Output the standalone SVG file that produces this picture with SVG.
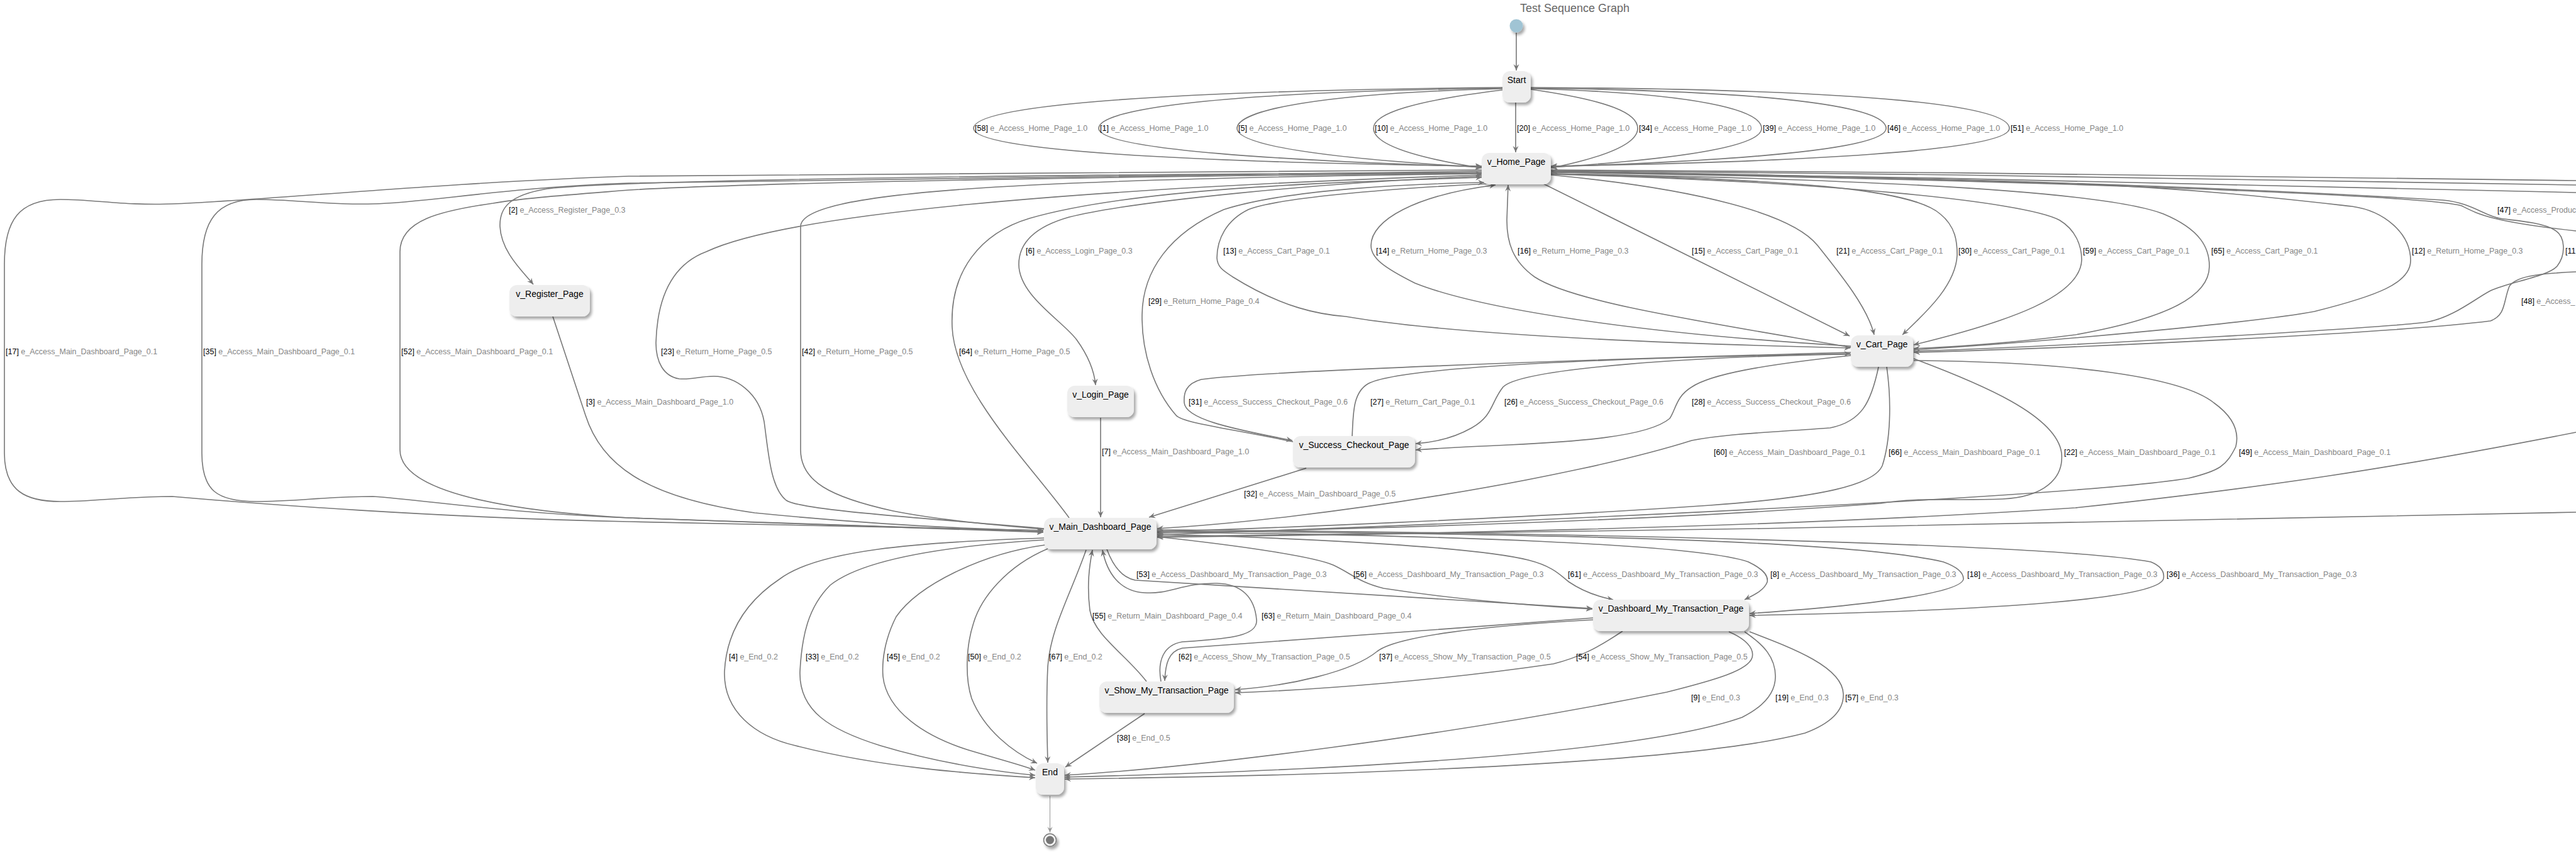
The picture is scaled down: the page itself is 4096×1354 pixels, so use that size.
<svg xmlns="http://www.w3.org/2000/svg" width="4096" height="1354" viewBox="0 0 4096 1354">
<defs>
<style>
.nd rect{fill:#EEEEEE;filter:url(#sh)}
.nt{font-family:"Liberation Sans",Arial,sans-serif;font-size:14px;fill:#000;text-anchor:middle}
.e{fill:none;stroke:#777;stroke-width:1.6;marker-end:url(#ah)}
.o{fill:none;stroke:#777;stroke-width:1.6}
.l{font-family:"Liberation Sans",Arial,sans-serif;font-size:12.5px;fill:#858585}
.k{fill:#000}
.title{font-family:"Liberation Sans",Arial,sans-serif;font-size:18px;fill:#666;text-anchor:middle}
</style>
<filter id="sh" x="-20%" y="-20%" width="150%" height="170%"><feDropShadow dx="3" dy="4" stdDeviation="2" flood-color="#000" flood-opacity="0.35"/></filter>
<marker id="ah" markerUnits="userSpaceOnUse" markerWidth="10" markerHeight="10" viewBox="0 0 10 10" refX="10" refY="5" orient="auto"><path d="M0,0.5 L10,5 L0,9.5 L3.5,5 Z" fill="#777"/></marker>
<marker id="ah2" markerUnits="userSpaceOnUse" markerWidth="9" markerHeight="9" viewBox="0 0 10 10" refX="10" refY="5" orient="auto"><path d="M0,0.5 L10,5 L0,9.5 L3.5,5 Z" fill="#999"/></marker>
</defs>
<rect width="4096" height="1354" fill="#fff"/>
<text class="title" x="2504" y="19">Test Sequence Graph</text>

<g id="edges">
<path id="e_init" class="e" d="M2411,52 L2411,112"/>
<g id="e58"><path class="e" d="M2389,139 C1800,145 1548,170 1548,204 C1548,240 1900,258 2356,264"/><text class="l" x="1550" y="208"><tspan class="k">[58]</tspan> e_Access_Home_Page_1.0</text></g>
<g id="e1"><path class="e" d="M2389,140 C1950,146 1747,172 1747,204 C1747,238 2050,256 2356,265"/><text class="l" x="1749" y="208"><tspan class="k">[1]</tspan> e_Access_Home_Page_1.0</text></g>
<g id="e5"><path class="e" d="M2389,141 C2100,148 1967,175 1967,204 C1967,235 2150,254 2356,266"/><text class="l" x="1969" y="208"><tspan class="k">[5]</tspan> e_Access_Home_Page_1.0</text></g>
<g id="e10"><path class="e" d="M2389,143 C2250,160 2184,180 2184,204 C2184,232 2260,252 2356,267"/><text class="l" x="2186" y="208"><tspan class="k">[10]</tspan> e_Access_Home_Page_1.0</text></g>
<g id="e20"><path class="e" d="M2410,163 L2410,242"/><text class="l" x="2412" y="208"><tspan class="k">[20]</tspan> e_Access_Home_Page_1.0</text></g>
<g id="e34"><path class="e" d="M2434,142 C2560,160 2604,180 2604,204 C2604,232 2540,252 2466,267"/><text class="l" x="2606" y="208"><tspan class="k">[34]</tspan> e_Access_Home_Page_1.0</text></g>
<g id="e39"><path class="e" d="M2434,141 C2700,148 2801,175 2801,204 C2801,235 2650,254 2466,266"/><text class="l" x="2803" y="208"><tspan class="k">[39]</tspan> e_Access_Home_Page_1.0</text></g>
<g id="e46"><path class="e" d="M2434,140 C2850,145 2999,172 2999,204 C2999,238 2750,256 2466,265"/><text class="l" x="3001" y="208"><tspan class="k">[46]</tspan> e_Access_Home_Page_1.0</text></g>
<g id="e51"><path class="e" d="M2434,139 C3000,142 3195,170 3195,204 C3195,240 2850,258 2466,264"/><text class="l" x="3197" y="208"><tspan class="k">[51]</tspan> e_Access_Home_Page_1.0</text></g>

<g id="e2"><path class="e" d="M2356,274 C1600,278 1000,285 870,300 C810,310 794,330 795,360 C797,400 830,430 848,452"/><text class="l" x="809" y="338"><tspan class="k">[2]</tspan> e_Access_Register_Page_0.3</text></g>
<g id="e3"><path class="e" d="M879,503 L931,660 C955,735 1020,790 1200,815 C1400,835 1550,841 1659,843"/><text class="l" x="932" y="643"><tspan class="k">[3]</tspan> e_Access_Main_Dashboard_Page_1.0</text></g>
<g id="e17"><path class="e" d="M2356,270 C1800,272 1300,276 1000,280 C700,290 400,320 274,324 C200,327 150,317 96,317 C30,317 7,350 7,420 L7,720 C7,780 40,797 96,797 C150,797 200,789 274,789 C400,800 700,823 1000,829 C1300,835 1500,840 1659,843"/><text class="l" x="9" y="563"><tspan class="k">[17]</tspan> e_Access_Main_Dashboard_Page_0.1</text></g>
<g id="e35"><path class="e" d="M2356,272 C1800,276 1300,284 1000,291 C800,298 680,322 593,324 C520,326 470,317 408,317 C345,317 321,350 321,420 L321,720 C321,780 345,797 408,797 C470,797 520,789 593,789 C680,795 800,815 1000,823 C1300,833 1500,840 1659,845"/><text class="l" x="323" y="563"><tspan class="k">[35]</tspan> e_Access_Main_Dashboard_Page_0.1</text></g>
<g id="e52"><path class="e" d="M2356,275 C1800,280 1200,290 1000,302 C900,310 830,315 784,323 C700,335 636,350 636,400 L636,715 C636,790 850,815 1000,823 C1300,835 1500,842 1659,846"/><text class="l" x="638" y="563"><tspan class="k">[52]</tspan> e_Access_Main_Dashboard_Page_0.1</text></g>
<g id="e23"><path class="e" d="M1660,840 C1450,822 1270,810 1250,795 C1225,775 1222,720 1215,670 C1207,625 1170,598 1135,598 C1110,598 1100,604 1080,602 C1055,598 1043,575 1043,545 C1045,470 1070,420 1123,400 C1250,340 1700,300 2356,278"/><text class="l" x="1051" y="563"><tspan class="k">[23]</tspan> e_Return_Home_Page_0.5</text></g>
<g id="e42"><path class="e" d="M1660,841 C1560,833 1470,822 1420,812 C1320,790 1273,765 1273,715 L1273,360 C1273,305 1600,285 2356,276"/><text class="l" x="1275" y="563"><tspan class="k">[42]</tspan> e_Return_Home_Page_0.5</text></g>
<g id="e64"><path class="e" d="M1700,823 C1640,740 1518,620 1514,520 C1510,430 1560,370 1637,347 C1800,300 2100,290 2356,282"/><text class="l" x="1525" y="563"><tspan class="k">[64]</tspan> e_Return_Home_Page_0.5</text></g>
<g id="e6"><path class="e" d="M2356,280 C2100,290 1800,320 1700,345 C1640,362 1620,390 1620,420 C1620,470 1690,510 1712,540 C1730,565 1740,590 1742,612"/><text class="l" x="1631" y="403"><tspan class="k">[6]</tspan> e_Access_Login_Page_0.3</text></g>
<g id="e7"><path class="e" d="M1750,664 L1750,822"/><text class="l" x="1752" y="722"><tspan class="k">[7]</tspan> e_Access_Main_Dashboard_Page_1.0</text></g>
<g id="e29"><path class="e" d="M2056,702 C1950,680 1880,672 1870,660 C1835,620 1815,560 1816,500 C1817,430 1860,370 1946,333 C2050,300 2250,292 2360,290"/><text class="l" x="1826" y="483"><tspan class="k">[29]</tspan> e_Return_Home_Page_0.4</text></g>
<g id="e13"><path class="e" d="M2366,292 C2200,300 2030,315 1985,333 C1950,350 1935,380 1935,410 C1936,425 1945,430 1960,440 C2040,490 2100,500 2140,503 C2300,530 2600,545 2942,553"/><text class="l" x="1945" y="403"><tspan class="k">[13]</tspan> e_Access_Cart_Page_0.1</text></g>
<g id="e14"><path class="e" d="M2943,550 C2600,530 2350,490 2250,450 C2200,425 2180,410 2180,390 C2180,350 2250,310 2378,294"/><text class="l" x="2188" y="403"><tspan class="k">[14]</tspan> e_Return_Home_Page_0.3</text></g>
<g id="e16"><path class="e" d="M2943,552 C2700,510 2500,480 2440,440 C2405,415 2396,385 2396,350 L2398,294"/><text class="l" x="2413" y="403"><tspan class="k">[16]</tspan> e_Return_Home_Page_0.3</text></g>
<g id="e15"><path class="e" d="M2454,292 L2941,534"/><text class="l" x="2690" y="403"><tspan class="k">[15]</tspan> e_Access_Cart_Page_0.1</text></g>
<g id="e21"><path class="e" d="M2466,278 C2700,300 2850,340 2890,390 C2930,440 2970,490 2980,532"/><text class="l" x="2920" y="403"><tspan class="k">[21]</tspan> e_Access_Cart_Page_0.1</text></g>
<g id="e30"><path class="e" d="M2466,276 C2850,285 3040,300 3085,340 C3110,360 3112,385 3112,405 C3110,450 3070,490 3025,532"/><text class="l" x="3114" y="403"><tspan class="k">[30]</tspan> e_Access_Cart_Page_0.1</text></g>
<g id="e59"><path class="e" d="M2466,277 C2900,288 3220,320 3275,350 C3300,365 3310,390 3310,413 C3308,470 3200,510 3043,548"/><text class="l" x="3312" y="403"><tspan class="k">[59]</tspan> e_Access_Cart_Page_0.1</text></g>
<g id="e65"><path class="e" d="M2466,276 C3000,285 3350,305 3440,340 C3500,365 3513,395 3513,423 C3513,470 3450,505 3300,532 C3200,545 3100,552 3043,554"/><text class="l" x="3516" y="403"><tspan class="k">[65]</tspan> e_Access_Cart_Page_0.1</text></g>
<g id="e12"><path class="e" d="M3043,556 C3300,540 3600,510 3680,495 C3780,470 3833,450 3833,414 C3833,370 3790,335 3740,328 C3650,318 3500,300 3300,292 C3000,282 2700,275 2467,272"/><text class="l" x="3835" y="403"><tspan class="k">[12]</tspan> e_Return_Home_Page_0.3</text></g>
<g id="e11"><path class="e" d="M3043,558 C3300,550 3800,520 3858,512 C3900,505 3935,475 3960,462 C3990,448 4050,440 4066,423 C4080,405 4080,375 4061,365 C4040,352 3990,350 3975,347 C3950,343 3930,322 3884,318 C3500,295 3000,280 2467,273"/><text class="l" x="4079" y="403"><tspan class="k">[11</tspan></text></g>
<g id="e47"><path class="o" d="M2466,274 C3200,285 3850,310 3914,327 C3940,340 3960,352 4096,367"/><text class="l" x="3971" y="338"><tspan class="k">[47]</tspan> e_Access_Produc</text></g>
<g id="e48"><path class="e" d="M4096,432 C4030,435 4000,440 3990,455 C3980,480 3985,500 3960,510 C3800,530 3300,553 3043,560"/><text class="l" x="4009" y="483"><tspan class="k">[48]</tspan> e_Access_</text></g>
<path id="eo1" class="o" d="M2466,270 C3000,272 3600,280 4096,287"/>
<path id="eo2" class="o" d="M2466,271 C3000,275 3600,285 4096,294"/>
<path id="eo3" class="o" d="M2466,273 C3000,280 3700,295 4096,306"/>

<g id="e31"><path class="e" d="M2943,560 C2500,572 2000,590 1910,603 C1885,610 1882,625 1883,640 C1885,665 1950,680 2055,700"/><text class="l" x="1890" y="643"><tspan class="k">[31]</tspan> e_Access_Success_Checkout_Page_0.6</text></g>
<g id="e27"><path class="e" d="M2150,693 C2152,660 2150,625 2175,610 C2220,585 2500,570 2942,562"/><text class="l" x="2179" y="643"><tspan class="k">[27]</tspan> e_Return_Cart_Page_0.1</text></g>
<g id="e26"><path class="e" d="M2943,563 C2700,566 2420,585 2390,615 C2370,640 2375,660 2340,680 C2310,697 2280,703 2251,705"/><text class="l" x="2392" y="643"><tspan class="k">[26]</tspan> e_Access_Success_Checkout_Page_0.6</text></g>
<g id="e28"><path class="e" d="M2943,565 C2800,580 2720,595 2690,615 C2665,630 2665,650 2655,665 C2620,695 2500,702 2400,707 C2330,710 2280,713 2251,715"/><text class="l" x="2690" y="643"><tspan class="k">[28]</tspan> e_Access_Success_Checkout_Page_0.6</text></g>
<g id="e32"><path class="e" d="M2077,744 L1827,822"/><text class="l" x="1978" y="789"><tspan class="k">[32]</tspan> e_Access_Main_Dashboard_Page_0.5</text></g>
<g id="e60"><path class="e" d="M2987,583 C2975,640 2960,670 2910,680 C2800,688 2740,690 2690,700 C2500,760 2100,825 1840,840"/><text class="l" x="2725" y="723"><tspan class="k">[60]</tspan> e_Access_Main_Dashboard_Page_0.1</text></g>
<g id="e66"><path class="e" d="M3000,583 C3008,640 3006,700 2993,740 C2980,770 2900,790 2719,803 C2400,825 2000,840 1840,845"/><text class="l" x="3003" y="723"><tspan class="k">[66]</tspan> e_Access_Main_Dashboard_Page_0.1</text></g>
<g id="e22"><path class="e" d="M3043,570 C3150,610 3270,660 3278,720 C3282,760 3250,790 3184,793 C3100,796 3050,790 2990,800 C2600,830 2100,842 1840,847"/><text class="l" x="3282" y="723"><tspan class="k">[22]</tspan> e_Access_Main_Dashboard_Page_0.1</text></g>
<g id="e49"><path class="e" d="M3043,573 C3300,575 3470,600 3520,640 C3555,665 3560,690 3555,710 C3540,740 3530,748 3480,760 C3300,790 2400,830 1840,850"/><text class="l" x="3560" y="723"><tspan class="k">[49]</tspan> e_Access_Main_Dashboard_Page_0.1</text></g>
<path id="eo4" class="e" d="M4096,687 C3800,745 3600,775 3300,807 C2800,840 2200,850 1840,852"/>
<path id="eo5" class="e" d="M4096,814 C3700,822 3300,830 2800,840 C2400,848 2000,852 1840,854"/>

<g id="e53"><path class="e" d="M1760,873 C1770,900 1785,918 1805,922 L2532,967"/><text class="l" x="1807" y="917"><tspan class="k">[53]</tspan> e_Access_Dashboard_My_Transaction_Page_0.3</text></g>
<g id="e56"><path class="e" d="M1840,853 C1980,868 2090,885 2120,898 C2150,912 2160,925 2200,935 C2330,955 2450,963 2532,968"/><text class="l" x="2152" y="917"><tspan class="k">[56]</tspan> e_Access_Dashboard_My_Transaction_Page_0.3</text></g>
<g id="e61"><path class="e" d="M1840,849 C2100,856 2350,870 2430,890 C2470,900 2482,915 2495,925 C2520,942 2545,949 2565,953"/><text class="l" x="2493" y="917"><tspan class="k">[61]</tspan> e_Access_Dashboard_My_Transaction_Page_0.3</text></g>
<g id="e8"><path class="e" d="M1840,846 C2300,850 2700,865 2780,893 C2805,905 2812,915 2810,925 C2805,938 2790,945 2774,953"/><text class="l" x="2815" y="917"><tspan class="k">[8]</tspan> e_Access_Dashboard_My_Transaction_Page_0.3</text></g>
<g id="e18"><path class="e" d="M1840,844 C2500,848 2950,860 3090,893 C3115,902 3122,912 3122,920 C3120,940 3000,960 2782,975"/><text class="l" x="3128" y="917"><tspan class="k">[18]</tspan> e_Access_Dashboard_My_Transaction_Page_0.3</text></g>
<g id="e36"><path class="e" d="M1840,842 C2700,848 3300,870 3420,893 C3437,900 3442,910 3440,920 C3430,950 3200,970 2782,978"/><text class="l" x="3445" y="917"><tspan class="k">[36]</tspan> e_Access_Dashboard_My_Transaction_Page_0.3</text></g>
<g id="e55"><path class="e" d="M1823,1083 C1790,1040 1740,1010 1733,970 C1728,930 1732,900 1737,874"/><text class="l" x="1737" y="983"><tspan class="k">[55]</tspan> e_Return_Main_Dashboard_Page_0.4</text></g>
<g id="e63"><path class="e" d="M1846,1083 C1840,1050 1850,1025 1880,1020 C1960,1015 2000,1010 1998,985 C1995,950 1975,928 1935,927 C1880,926 1860,945 1820,942 C1780,940 1760,910 1753,874"/><text class="l" x="2006" y="983"><tspan class="k">[63]</tspan> e_Return_Main_Dashboard_Page_0.4</text></g>
<g id="e62"><path class="e" d="M2533,982 C2300,1000 2000,1020 1880,1030 C1858,1035 1853,1055 1852,1082"/><text class="l" x="1874" y="1048"><tspan class="k">[62]</tspan> e_Access_Show_My_Transaction_Page_0.5</text></g>
<g id="e37"><path class="e" d="M2533,985 C2350,995 2220,1012 2190,1035 C2150,1068 2050,1090 1964,1096"/><text class="l" x="2193" y="1048"><tspan class="k">[37]</tspan> e_Access_Show_My_Transaction_Page_0.5</text></g>
<g id="e54"><path class="e" d="M2580,1003 C2540,1030 2510,1045 2470,1055 C2300,1080 2100,1096 1964,1101"/><text class="l" x="2506" y="1048"><tspan class="k">[54]</tspan> e_Access_Show_My_Transaction_Page_0.5</text></g>
<g id="e4"><path class="e" d="M1660,855 C1450,862 1300,875 1240,920 C1180,960 1155,1010 1152,1067 C1150,1130 1200,1170 1265,1185 C1400,1220 1550,1230 1646,1236"/><text class="l" x="1159" y="1048"><tspan class="k">[4]</tspan> e_End_0.2</text></g>
<g id="e33"><path class="e" d="M1660,858 C1500,868 1370,890 1320,930 C1285,965 1275,1010 1272,1067 C1270,1130 1320,1160 1400,1185 C1500,1215 1600,1228 1646,1232"/><text class="l" x="1281" y="1048"><tspan class="k">[33]</tspan> e_End_0.2</text></g>
<g id="e45"><path class="e" d="M1662,866 C1560,880 1460,930 1425,980 C1407,1015 1402,1050 1404,1075 C1410,1130 1470,1170 1540,1192 C1590,1207 1625,1216 1646,1224"/><text class="l" x="1410" y="1048"><tspan class="k">[45]</tspan> e_End_0.2</text></g>
<g id="e50"><path class="e" d="M1666,872 C1600,900 1560,950 1548,990 C1535,1030 1535,1080 1545,1110 C1565,1160 1610,1195 1649,1213"/><text class="l" x="1539" y="1048"><tspan class="k">[50]</tspan> e_End_0.2</text></g>
<g id="e67"><path class="e" d="M1727,874 C1700,950 1670,1000 1666,1060 C1663,1120 1665,1170 1666,1212"/><text class="l" x="1668" y="1048"><tspan class="k">[67]</tspan> e_End_0.2</text></g>
<g id="e38"><path class="e" d="M1820,1134 L1694,1219"/><text class="l" x="1776" y="1177"><tspan class="k">[38]</tspan> e_End_0.5</text></g>
<g id="e9"><path class="e" d="M2749,1004 C2775,1015 2790,1030 2786,1045 C2780,1065 2730,1080 2650,1100 C2300,1170 1900,1220 1693,1232"/><text class="l" x="2689" y="1113"><tspan class="k">[9]</tspan> e_End_0.3</text></g>
<g id="e19"><path class="e" d="M2774,1004 C2805,1025 2823,1045 2823,1075 C2823,1105 2800,1125 2770,1140 C2600,1200 2100,1225 1693,1235"/><text class="l" x="2823" y="1113"><tspan class="k">[19]</tspan> e_End_0.3</text></g>
<g id="e57"><path class="e" d="M2782,1004 C2850,1030 2930,1060 2931,1103 C2932,1130 2910,1150 2870,1165 C2700,1210 2200,1232 1693,1238"/><text class="l" x="2934" y="1113"><tspan class="k">[57]</tspan> e_End_0.3</text></g>
<path id="e_final" d="M1669.5,1265 L1669.5,1323" fill="none" stroke="#999" stroke-width="1" marker-end="url(#ah2)"/>
</g>

<g id="n_init"><circle cx="2411" cy="41" r="10.5" fill="#A0C4D4" filter="url(#sh)"/></g>
<g id="n_start" class="nd"><rect x="2389" y="113" width="45" height="50" rx="12"/><text class="nt" x="2411.5" y="132">Start</text></g>
<g id="n_home" class="nd"><rect x="2356" y="243" width="110" height="50" rx="12"/><text class="nt" x="2411" y="262">v_Home_Page</text></g>
<g id="n_register" class="nd"><rect x="810" y="453" width="128" height="50" rx="12"/><text class="nt" x="874" y="472">v_Register_Page</text></g>
<g id="n_login" class="nd"><rect x="1697" y="613" width="106" height="50" rx="12"/><text class="nt" x="1750" y="632">v_Login_Page</text></g>
<g id="n_success" class="nd"><rect x="2056" y="693" width="194" height="50" rx="12"/><text class="nt" x="2153" y="712">v_Success_Checkout_Page</text></g>
<g id="n_cart" class="nd"><rect x="2943" y="533" width="99" height="50" rx="12"/><text class="nt" x="2992.5" y="552">v_Cart_Page</text></g>
<g id="n_main" class="nd"><rect x="1660" y="823" width="179" height="50" rx="12"/><text class="nt" x="1749.5" y="842">v_Main_Dashboard_Page</text></g>
<g id="n_dmt" class="nd"><rect x="2533" y="953" width="248" height="50" rx="12"/><text class="nt" x="2657" y="972">v_Dashboard_My_Transaction_Page</text></g>
<g id="n_show" class="nd"><rect x="1748" y="1083" width="214" height="50" rx="12"/><text class="nt" x="1855" y="1102">v_Show_My_Transaction_Page</text></g>
<g id="n_end" class="nd"><rect x="1647" y="1213" width="45" height="50" rx="12"/><text class="nt" x="1669.5" y="1232">End</text></g>
<g id="n_final"><circle cx="1669.5" cy="1335" r="10" fill="#F2F2F2" stroke="#7A7A7A" stroke-width="1.5" filter="url(#sh)"/><circle cx="1669.5" cy="1335" r="6.5" fill="#777"/></g>
</svg>
